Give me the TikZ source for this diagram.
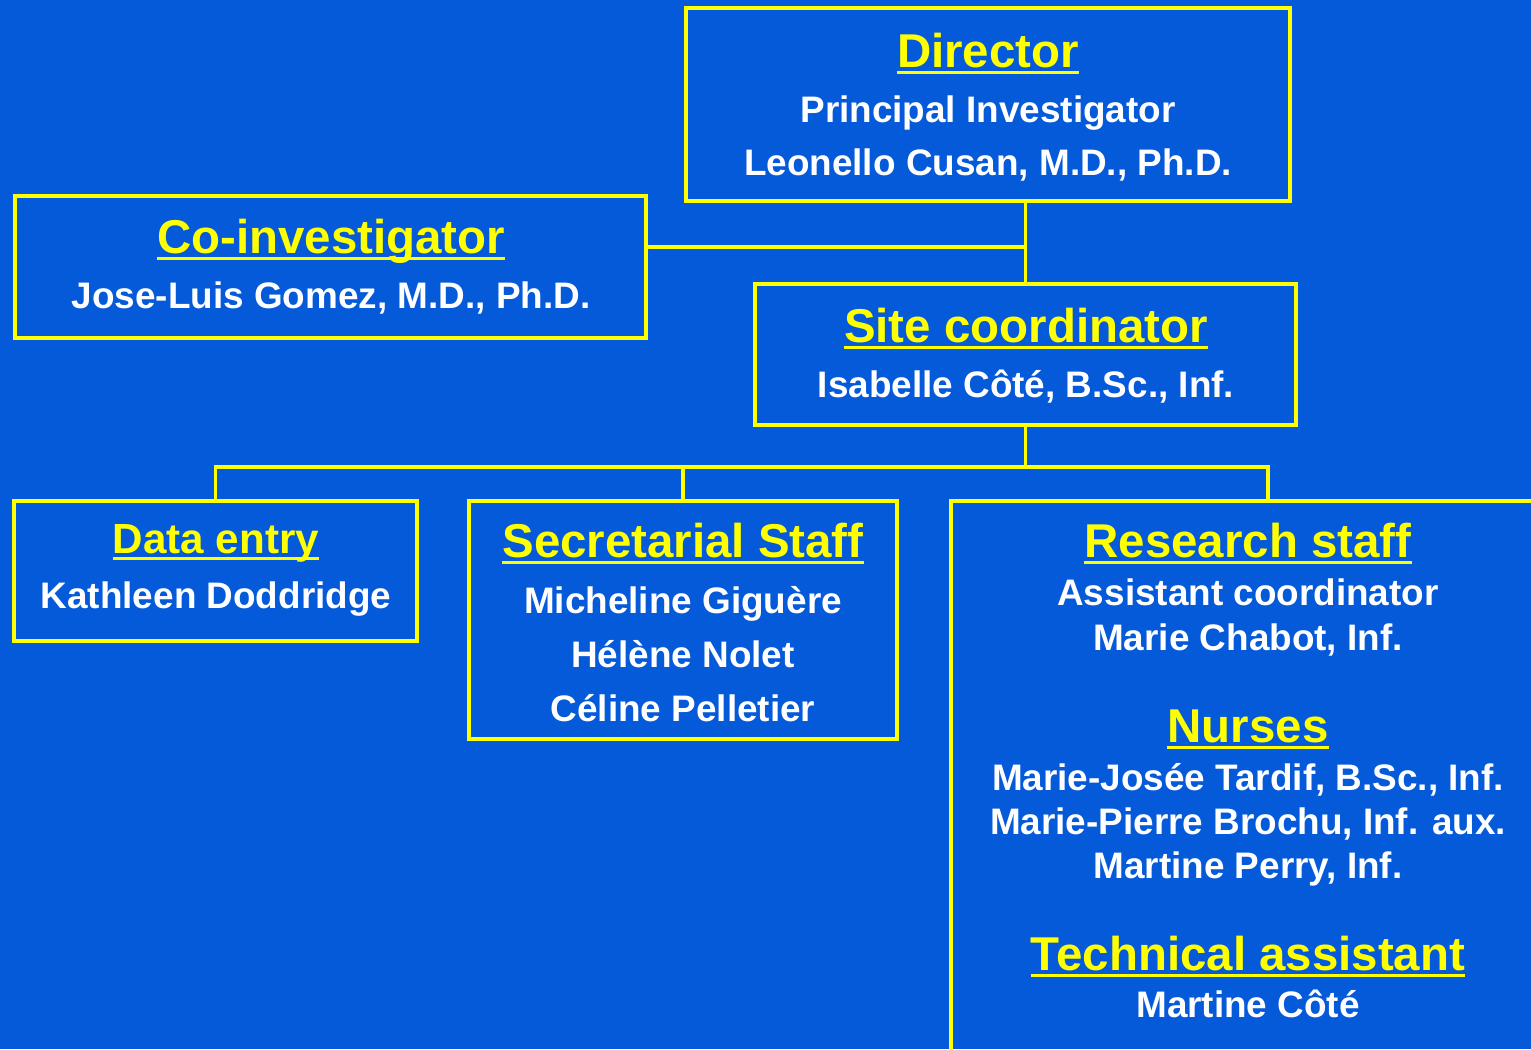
\documentclass[tikz,border=0pt]{standalone}
\usepackage{fontspec}
\setmainfont{Liberation Sans}
\usepackage{tikz}
\usetikzlibrary{positioning}
\definecolor{bgblue}{HTML}{055AD9}
\definecolor{chartyellow}{HTML}{FFFF00}

\begin{document}
\begin{tikzpicture}[x=0.02cm,y=-0.02cm,
  orgbox/.style={draw=chartyellow,line width=2.2pt,inner sep=0pt},
  link/.style={draw=chartyellow,line width=2pt},
  boxtitle/.style={text=chartyellow,font=\fontsize{27}{32}\selectfont\bfseries,inner sep=0pt,anchor=base,
    append after command={([yshift=-3pt]\tikzlastnode.base west) edge[draw=chartyellow,line width=1.8pt] ([yshift=-3pt]\tikzlastnode.base east)}},
  person/.style={text=white,font=\fontsize{21}{25}\selectfont\bfseries,inner sep=0pt,anchor=base}]
% background
\fill[bgblue] (0,0) rectangle (1531,1049);
\useasboundingbox (0,0) rectangle (1531,1049);
\clip (0,0) rectangle (1531,1049);

% boxes
\node[orgbox,minimum width=12.08cm,minimum height=3.86cm] (director) at (988,104.5) {};
\node[orgbox,minimum width=12.62cm,minimum height=2.84cm] (coinv) at (330.5,267) {};
\node[orgbox,minimum width=10.82cm,minimum height=2.82cm] (site) at (1025.5,354.5) {};
\node[orgbox,minimum width=8.06cm,minimum height=2.8cm] (dataentry) at (215.5,571) {};
\node[orgbox,minimum width=8.56cm,minimum height=4.76cm] (secretarial) at (683,620) {};
\node[orgbox,minimum width=12.68cm,minimum height=11.98cm] (research) at (1268,800.5) {};

% connectors
\coordinate (tee) at (1025,247);
\coordinate (bus) at (1022,467);
\draw[link] (director.south -| site.north) -- (site.north);
\draw[link] (coinv.east |- tee) -- (tee);
\draw[link] (site.south) -- (site.south |- bus);
\draw[link] (dataentry.north) -- (dataentry.north |- bus) -- (research.north |- bus) -- (research.north);
\draw[link] (secretarial.north) -- (secretarial.north |- bus);

% director
\node[boxtitle] (dirtitle) at (988,67) {Director};
\node[person] (dirrole) at (988,122) {Principal Investigator};
\node[person] (dirname) at (988,175) {Leonello Cusan, M.D., Ph.D.};

% co-investigator
\node[boxtitle] (cotitle) at (331,253) {Co-investigator};
\node[person] (coname) at (331,308) {Jose-Luis Gomez, M.D., Ph.D.};

% site coordinator
\node[boxtitle] (sitetitle) at (1026,342) {Site coordinator};
\node[person] (sitename) at (1026,397) {Isabelle Côté, B.Sc., Inf.};

% data entry
\node[boxtitle,font=\fontsize{24}{29}\selectfont\bfseries] (datatitle) at (216,553) {Data entry};
\node[person] (dataname) at (216,608) {Kathleen Doddridge};

% secretarial staff
\node[boxtitle] (sectitle) at (683,557) {Secretarial Staff};
\node[person] (secone) at (683,613) {Micheline Giguère};
\node[person] (sectwo) at (683,667) {Hélène Nolet};
\node[person] (secthree) at (683,721) {Céline Pelletier};

% research staff
\node[boxtitle] (restitle) at (1248,557) {Research staff};
\node[person] (resrole) at (1248,605) {Assistant coordinator};
\node[person] (resname) at (1248,650) {Marie Chabot, Inf.};
\node[boxtitle] (nursetitle) at (1248,742) {Nurses};
\node[person] (nurseone) at (1248,790) {Marie-Josée Tardif, B.Sc., Inf.};
\node[person] (nursetwo) at (1248,834) {Marie-Pierre Brochu, Inf. aux.};
\node[person] (nursethree) at (1248,878) {Martine Perry, Inf.};
\node[boxtitle] (techtitle) at (1248,970) {Technical assistant};
\node[person] (techname) at (1248,1017) {Martine Côté};
\end{tikzpicture}
\end{document}
